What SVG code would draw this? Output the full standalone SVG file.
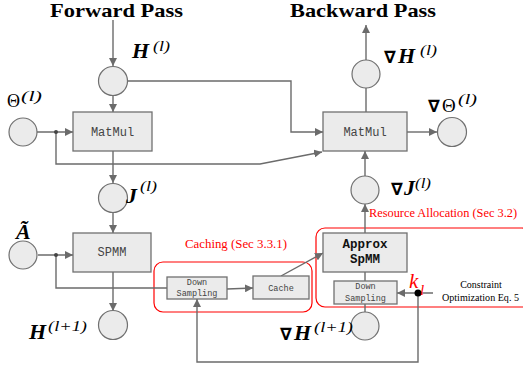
<svg xmlns="http://www.w3.org/2000/svg" width="523" height="368" viewBox="0 0 523 368">
<defs>
<marker id="ah" viewBox="0 0 10 10" refX="10" refY="5" markerWidth="8" markerHeight="8" markerUnits="userSpaceOnUse" orient="auto">
<path d="M0,0 L10,5 L0,10 Z" fill="#6b6b6b"/>
</marker>
<style>
.c{fill:#ebebeb;stroke:#707070;stroke-width:1.2}
.b{fill:#ebebeb;stroke:#707070;stroke-width:1.3}
.l{fill:none;stroke:#6b6b6b;stroke-width:1.4}
.a{marker-end:url(#ah)}
.title{font-family:"Liberation Serif",serif;font-weight:bold;font-size:19px;fill:#000}
.mono{font-family:"Liberation Mono",monospace;fill:#444}
.math{font-family:"Liberation Serif","DejaVu Serif",serif;font-weight:bold;font-style:italic;font-size:22px;fill:#000}
.sup{font-family:"Liberation Serif","DejaVu Serif",serif;font-style:italic;font-size:15px;fill:#000}
.nab{font-family:"DejaVu Sans",sans-serif;font-weight:bold;font-size:17px;fill:#000}
.red{font-family:"Liberation Serif",serif;fill:#ff0000}
.rbox{fill:none;stroke:#ff0000;stroke-width:1.2}
.cap{font-family:"Liberation Serif",serif;font-size:10px;fill:#000}
</style>
</defs>
<rect width="523" height="368" fill="#fff"/>
<text class="title" x="50" y="17" textLength="133" lengthAdjust="spacingAndGlyphs">Forward Pass</text>
<text class="title" x="290" y="17" textLength="146" lengthAdjust="spacingAndGlyphs">Backward Pass</text>

<g id="region-caching">
<rect class="rbox" x="154" y="262" width="158" height="50" rx="9"/>
<text class="red" x="185" y="248" font-size="13" textLength="102" lengthAdjust="spacingAndGlyphs">Caching (Sec 3.3.1)</text>
</g>
<g id="region-resource">
<rect class="rbox" x="316" y="228" width="215" height="79" rx="9"/>
<text class="red" x="369" y="217" font-size="12.5" textLength="148" lengthAdjust="spacingAndGlyphs">Resource Allocation (Sec 3.2)</text>
</g>

<g id="connectors">
<path class="l a" d="M113,20 V66"/>
<path class="l a" d="M113,95 V112"/>
<path class="l a" d="M127,81 H291 V132 H323"/>
<path class="l a" d="M37,132 H73"/>
<path class="l a" d="M56,132 V164 H260 L322,152"/>
<path class="l a" d="M113,151 V183"/>
<path class="l a" d="M113,212 V233"/>
<path class="l a" d="M38,255 H73"/>
<path class="l" d="M56,255 V288 H167"/>
<path class="l a" d="M113,272 V311"/>
<path class="l a" d="M227,289 L253,288"/>
<path class="l a" d="M281,276 L323,253"/>
<path class="l" d="M366,112 V88"/>
<path class="l a" d="M366,60 V25"/>
<path class="l a" d="M407,132 H437"/>
<path class="l a" d="M365,176 V151"/>
<path class="l a" d="M365,233 V204"/>
<path class="l" d="M365,272 V281"/>
<path class="l" d="M365,304 V312"/>
<path class="l a" d="M433,293 H397"/>
<path class="l a" d="M418,293 V362 H197 V299"/>
<circle cx="56" cy="132" r="2" fill="#444"/>
<circle cx="56" cy="255" r="2" fill="#444"/>
<circle cx="418" cy="293" r="3.5" fill="#000"/>
</g>

<g id="H_l">
<circle class="c" cx="113" cy="81" r="14.5"/>
<text class="math" x="132" y="58">H</text>
<text class="sup" x="153" y="51" textLength="17" lengthAdjust="spacingAndGlyphs">(l)</text>
</g>
<g id="Theta_l">
<circle class="c" cx="23" cy="132" r="14"/>
<text x="7" y="107" font-family="Liberation Serif,serif" font-size="18">Θ</text>
<text class="sup" x="21" y="101" textLength="21" lengthAdjust="spacingAndGlyphs">(l)</text>
</g>
<g id="MatMul_fwd">
<rect class="b" x="73" y="112" width="79" height="39"/>
<text class="mono" x="112.5" y="136" font-size="12" text-anchor="middle">MatMul</text>
</g>
<g id="J_l">
<circle class="c" cx="113" cy="198" r="14.5"/>
<text class="math" x="126" y="203">J</text>
<text class="sup" x="140" y="191" textLength="17" lengthAdjust="spacingAndGlyphs">(l)</text>
</g>
<g id="A_tilde">
<circle class="c" cx="23" cy="255" r="14"/>
<text class="math" x="16" y="239" font-size="20">Ã</text>
</g>
<g id="SPMM">
<rect class="b" x="73" y="233" width="78" height="39"/>
<text class="mono" x="112" y="256" font-size="12" text-anchor="middle">SPMM</text>
</g>
<g id="H_l1">
<circle class="c" cx="113" cy="325" r="14.5"/>
<text class="math" x="29" y="339">H</text>
<text class="sup" x="48" y="331" textLength="39" lengthAdjust="spacingAndGlyphs">(l+1)</text>
</g>
<g id="DownSampling_fwd">
<rect class="b" x="167" y="277" width="60" height="22"/>
<text class="mono" x="197" y="285" font-size="8.5" text-anchor="middle">Down</text>
<text class="mono" x="197" y="296" font-size="8.5" text-anchor="middle">Sampling</text>
</g>
<g id="Cache">
<rect class="b" x="253" y="276" width="56" height="23"/>
<text class="mono" x="281" y="291" font-size="8.5" text-anchor="middle">Cache</text>
</g>
<g id="MatMul_bwd">
<rect class="b" x="323" y="112" width="84" height="39"/>
<text class="mono" x="365" y="136" font-size="12" text-anchor="middle">MatMul</text>
</g>
<g id="gradH_l">
<circle class="c" cx="366" cy="74" r="14"/>
<text class="nab" x="384" y="63">∇</text>
<text class="math" x="398" y="63">H</text>
<text class="sup" x="420" y="55" textLength="17" lengthAdjust="spacingAndGlyphs">(l)</text>
</g>
<g id="gradTheta_l">
<circle class="c" cx="452" cy="132" r="14.5"/>
<text class="nab" x="428" y="112">∇</text>
<text x="442" y="112" font-family="Liberation Serif,serif" font-size="19">Θ</text>
<text class="sup" x="458" y="104" textLength="19" lengthAdjust="spacingAndGlyphs">(l)</text>
</g>
<g id="gradJ_l">
<circle class="c" cx="365" cy="190" r="14"/>
<text class="nab" x="391" y="195">∇</text>
<text class="math" x="404" y="195">J</text>
<text class="sup" x="415" y="188" textLength="16" lengthAdjust="spacingAndGlyphs">(l)</text>
</g>
<g id="ApproxSpMM">
<rect class="b" x="323" y="233" width="84" height="39"/>
<text x="365" y="248" font-family="Liberation Mono,monospace" font-weight="bold" font-size="12.5" text-anchor="middle" fill="#111">Approx</text>
<text x="365" y="263" font-family="Liberation Mono,monospace" font-weight="bold" font-size="12.5" text-anchor="middle" fill="#111">SpMM</text>
</g>
<g id="DownSampling_bwd">
<rect class="b" x="334" y="281" width="63" height="23"/>
<text class="mono" x="365.5" y="289" font-size="8.5" text-anchor="middle">Down</text>
<text class="mono" x="365.5" y="301" font-size="8.5" text-anchor="middle">Sampling</text>
</g>
<g id="gradH_l1">
<circle class="c" cx="365" cy="326" r="14"/>
<text class="nab" x="280" y="340">∇</text>
<text class="math" x="294" y="340">H</text>
<text class="sup" x="314" y="332" textLength="39" lengthAdjust="spacingAndGlyphs">(l+1)</text>
</g>
<g id="k_l">
<text x="409" y="288" font-family="Liberation Serif,serif" font-style="italic" font-size="21" fill="#ff0000">k</text>
<text x="420" y="295" font-family="Liberation Serif,serif" font-style="italic" font-size="15" fill="#ff0000">l</text>
</g>
<g id="constraint">
<text class="cap" x="481" y="288" text-anchor="middle">Constraint</text>
<text class="cap" x="442" y="301" textLength="77" lengthAdjust="spacingAndGlyphs">Optimization Eq. 5</text>
</g>
</svg>
